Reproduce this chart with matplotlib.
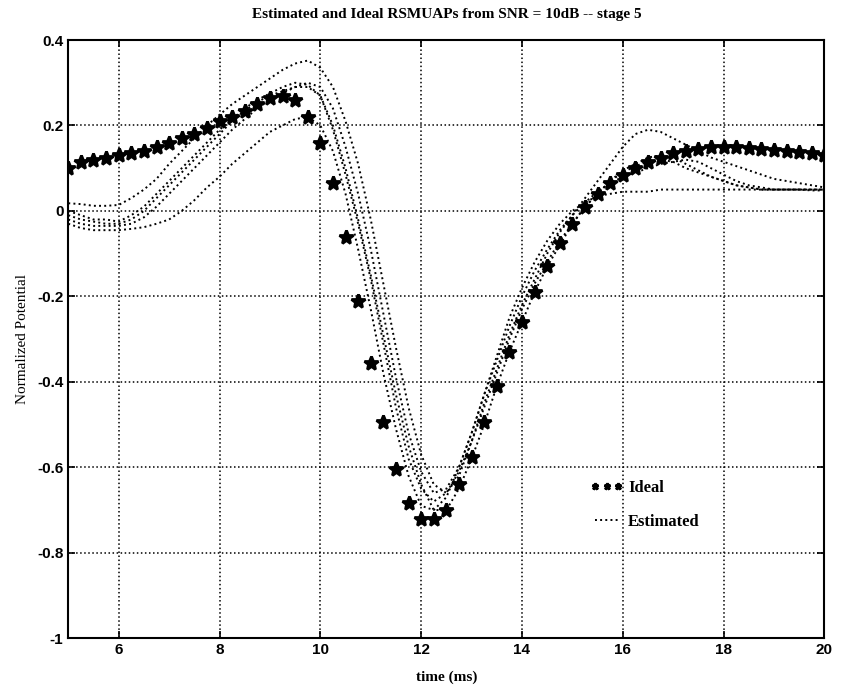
import numpy as np
import matplotlib
matplotlib.use("Agg")
import matplotlib.pyplot as plt

# time axis, 0.25 ms steps
t = np.arange(5, 20.001, 0.25)

ideal = [0.10,
         0.115, 0.12, 0.125, 0.13,
         0.135, 0.14, 0.15, 0.16,
         0.17, 0.18, 0.195, 0.21,
         0.22, 0.235, 0.25, 0.265,
         0.27, 0.26, 0.22, 0.16,
         0.065, -0.06, -0.21, -0.355,
         -0.495, -0.605, -0.684, -0.72,
         -0.722, -0.70, -0.64, -0.577,
         -0.495, -0.41, -0.33, -0.26,
         -0.19, -0.13, -0.075, -0.03,
         0.01, 0.04, 0.065, 0.085,
         0.10, 0.115, 0.125, 0.135,
         0.14, 0.145, 0.15, 0.15,
         0.15, 0.148, 0.146, 0.143,
         0.14, 0.138, 0.135, 0.13]

est1 = [0.018,
        0.016, 0.012, 0.012, 0.014,
        0.03, 0.05, 0.075, 0.11,
        0.14, 0.17, 0.2, 0.225,
        0.25, 0.27, 0.29, 0.31,
        0.33, 0.345, 0.352, 0.335,
        0.29, 0.21, 0.11, -0.02,
        -0.17, -0.32, -0.46, -0.57,
        -0.64, -0.66, -0.62, -0.54,
        -0.45, -0.37, -0.29, -0.22,
        -0.16, -0.1, -0.05, -0.01,
        0.03, 0.07, 0.11, 0.15,
        0.18, 0.19, 0.185, 0.17,
        0.155, 0.14, 0.125, 0.115,
        0.105, 0.095, 0.085, 0.075,
        0.07, 0.065, 0.06, 0.055]

est2 = [-0.03,
        -0.04, -0.045, -0.045, -0.045,
        -0.042, -0.038, -0.03, -0.02,
        0.0, 0.025, 0.055, 0.08,
        0.11, 0.135, 0.16, 0.185,
        0.2, 0.215, 0.22, 0.2,
        0.14, 0.04, -0.09, -0.23,
        -0.38, -0.51, -0.62, -0.69,
        -0.7, -0.67, -0.6, -0.52,
        -0.43, -0.35, -0.27, -0.2,
        -0.14, -0.09, -0.045, -0.01,
        0.02, 0.045, 0.065, 0.08,
        0.09, 0.1, 0.11, 0.115,
        0.12, 0.115, 0.1, 0.085,
        0.07, 0.06, 0.055, 0.05,
        0.05, 0.05, 0.05, 0.05]

est3 = [-0.01,
        -0.02, -0.025, -0.03, -0.03,
        -0.02, 0.0, 0.03, 0.06,
        0.09, 0.12, 0.15, 0.18,
        0.21, 0.235, 0.255, 0.27,
        0.28, 0.29, 0.29, 0.27,
        0.19, 0.085, -0.03, -0.16,
        -0.31, -0.46, -0.58, -0.65,
        -0.68, -0.66, -0.61, -0.54,
        -0.46, -0.38, -0.3, -0.23,
        -0.17, -0.12, -0.07, -0.03,
        0.01, 0.04, 0.07, 0.09,
        0.105, 0.115, 0.12, 0.115,
        0.1, 0.09, 0.08, 0.07,
        0.06, 0.055, 0.05, 0.05,
        0.05, 0.05, 0.048, 0.048]

est4 = [-0.02,
        -0.03, -0.035, -0.035, -0.035,
        -0.03, -0.015, 0.01, 0.04,
        0.07, 0.1, 0.13, 0.16,
        0.19, 0.215, 0.24, 0.26,
        0.275, 0.29, 0.3, 0.29,
        0.24, 0.15, 0.04, -0.09,
        -0.24, -0.39, -0.52, -0.61,
        -0.66, -0.65, -0.6, -0.52,
        -0.43, -0.34, -0.25, -0.18,
        -0.12, -0.07, -0.03, 0.0,
        0.02, 0.035, 0.04, 0.045,
        0.045, 0.045, 0.05, 0.05,
        0.05, 0.05, 0.05, 0.05,
        0.05, 0.05, 0.05, 0.05,
        0.05, 0.05, 0.05, 0.05]

est5 = [0.0,
        -0.01, -0.02, -0.02, -0.025,
        -0.01, 0.01, 0.04, 0.07,
        0.1, 0.13, 0.16, 0.19,
        0.215, 0.24, 0.26, 0.275,
        0.29, 0.3, 0.295, 0.27,
        0.2, 0.1, -0.02, -0.15,
        -0.29, -0.43, -0.55, -0.64,
        -0.7, -0.7, -0.65, -0.58,
        -0.5, -0.41, -0.33, -0.26,
        -0.19, -0.13, -0.08, -0.03,
        0.01, 0.04, 0.07, 0.095,
        0.11, 0.125, 0.13, 0.125,
        0.11, 0.095, 0.08, 0.07,
        0.06, 0.055, 0.05, 0.05,
        0.05, 0.05, 0.05, 0.05]

estimates = [est1, est2, est3, est4, est5]

plt.rcParams['font.family'] = ['Liberation Serif', 'DejaVu Serif']

fig = plt.figure(figsize=(8.43, 6.9), dpi=100)
ax = fig.add_axes([0.081, 0.075, 0.897, 0.867])

for i, e in enumerate(estimates):
    ax.plot(t, e, ':', color='black', lw=1.4,
            label='Estimated' if i == 0 else None)
ax.plot(t, ideal, '*', color='black', markersize=10, markeredgewidth=2,
        linestyle='none', label='Ideal')

ax.set_xlim(5, 20)
ax.set_ylim(-1, 0.4)
ax.set_xticks([6, 8, 10, 12, 14, 16, 18, 20])
ax.set_yticks([-1, -0.8, -0.6, -0.4, -0.2, 0, 0.2, 0.4])
ax.set_yticklabels(['-1', '-0.8', '-0.6', '-0.4', '-0.2', '0', '0.2', '0.4'])
ax.grid(True, linestyle=':', color='black', linewidth=1.1)
ax.tick_params(direction='in', top=True, right=True, length=5, width=1.2,
               labelsize=11)
for lbl in ax.get_xticklabels() + ax.get_yticklabels():
    lbl.set_family(['Liberation Sans', 'DejaVu Sans'])
    lbl.set_fontweight('bold')
for s in ax.spines.values():
    s.set_linewidth(1.5)

ax.set_title('Estimated and Ideal RSMUAPs from SNR = 10dB -- stage 5',
             fontsize=11, fontweight='bold', pad=16)
ax.set_xlabel('time (ms)', fontsize=11, fontweight='bold', labelpad=10)
ax.set_ylabel('Normalized Potential', fontsize=11, labelpad=6)

h, l = ax.get_legend_handles_labels()
leg = ax.legend([h[-1], h[0]], [l[-1], l[0]], loc='upper left',
                bbox_to_anchor=(0.67, 0.29), frameon=False, numpoints=3,
                handlelength=2.0, handletextpad=0.3, labelspacing=1.1,
                prop={'size': 12, 'weight': 'bold'}, markerscale=0.5)

fig.savefig('out.png', dpi=100)
